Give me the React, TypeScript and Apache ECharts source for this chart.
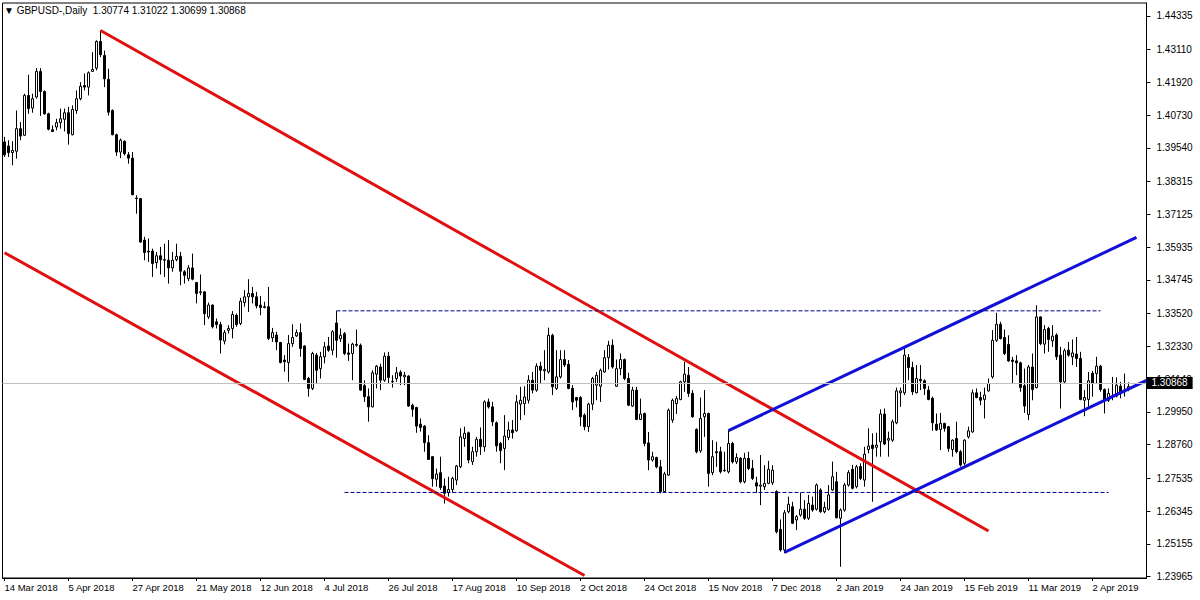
import React, { useEffect, useRef } from "react";
import * as echarts from "echarts";

// ---------- categories (trading days, no weekend bars, no Christmas / New Year bar) ----------
const START_DATE = "2018-03-14";
const HOLIDAYS = ["2018-12-25", "2019-01-01"];
const EXTRA_SLOTS = 4; // empty right-shift space of the terminal
const MONTHS = ["Jan", "Feb", "Mar", "Apr", "May", "Jun", "Jul", "Aug", "Sep", "Oct", "Nov", "Dec"];

// ---------- daily candles [open, high, low, close] ----------
const candlesMarJun2018 = [
  [1.3976, 1.3994, 1.3921, 1.3929], [1.3961, 1.3982, 1.3921, 1.3937], [1.3937, 1.3978, 1.3891, 1.3945],
  [1.3942, 1.409, 1.3915, 1.4024], [1.4024, 1.4048, 1.3982, 1.3997], [1.4, 1.4151, 1.3997, 1.4145],
  [1.4145, 1.422, 1.4078, 1.4097], [1.4099, 1.4151, 1.4082, 1.4133], [1.4139, 1.4244, 1.4133, 1.4232],
  [1.4232, 1.4244, 1.407, 1.4159], [1.4159, 1.4163, 1.4075, 1.4078], [1.4078, 1.4082, 1.4018, 1.4022],
  [1.402, 1.4036, 1.4012, 1.4014], [1.403, 1.406, 1.4018, 1.4046], [1.4046, 1.4097, 1.4024, 1.406],
  [1.4058, 1.4097, 1.4014, 1.4082], [1.4082, 1.4103, 1.3966, 1.4006], [1.4002, 1.4109, 1.4, 1.4094],
  [1.409, 1.4163, 1.4078, 1.4133], [1.4133, 1.4193, 1.4127, 1.4178], [1.4181, 1.4224, 1.4163, 1.4175],
  [1.4175, 1.4232, 1.4145, 1.4227], [1.4232, 1.4302, 1.423, 1.4239], [1.4244, 1.4345, 1.4236, 1.4341],
  [1.4341, 1.4381, 1.4284, 1.4293], [1.429, 1.4308, 1.4175, 1.4205], [1.4203, 1.4242, 1.4072, 1.4084],
  [1.409, 1.4094, 1.4, 1.4002], [1.4002, 1.4006, 1.3925, 1.3939], [1.3939, 1.3988, 1.3917, 1.3982],
  [1.3978, 1.3982, 1.3927, 1.3933], [1.3929, 1.3939, 1.3897, 1.3917], [1.3917, 1.3939, 1.3782, 1.3784],
  [1.3772, 1.3782, 1.3715, 1.377], [1.377, 1.3772, 1.361, 1.3612], [1.3619, 1.3631, 1.3546, 1.3574],
  [1.3579, 1.3625, 1.354, 1.3576], [1.3579, 1.3588, 1.3485, 1.3534], [1.3537, 1.3576, 1.3516, 1.3562],
  [1.3562, 1.3594, 1.3494, 1.3548], [1.3548, 1.3606, 1.3485, 1.3546], [1.3546, 1.3619, 1.3461, 1.3518],
  [1.3518, 1.3576, 1.3504, 1.3546], [1.3548, 1.3606, 1.3542, 1.356], [1.356, 1.3576, 1.3455, 1.3506],
  [1.3504, 1.351, 1.3461, 1.3491], [1.3479, 1.3528, 1.347, 1.3518], [1.3518, 1.357, 1.3473, 1.3477],
  [1.3465, 1.3467, 1.3389, 1.3425], [1.3431, 1.3494, 1.3419, 1.3429], [1.3431, 1.3433, 1.331, 1.3352],
  [1.334, 1.3392, 1.3332, 1.3383], [1.3383, 1.3385, 1.3298, 1.3304], [1.3322, 1.3334, 1.3298, 1.3312],
  [1.3312, 1.3322, 1.3207, 1.3256], [1.3252, 1.3292, 1.324, 1.3283], [1.3291, 1.331, 1.328, 1.3298],
  [1.3298, 1.3361, 1.3262, 1.3349], [1.3346, 1.3352, 1.3304, 1.3312], [1.3316, 1.3409, 1.331, 1.3397],
  [1.3392, 1.3437, 1.3377, 1.3413], [1.3413, 1.3477, 1.3358, 1.3425], [1.3425, 1.3449, 1.3389, 1.3413],
  [1.3413, 1.3431, 1.3371, 1.338], [1.3383, 1.3416, 1.3346, 1.3374], [1.3377, 1.3395, 1.3371, 1.3374],
  [1.3377, 1.3449, 1.3256, 1.3262], [1.3264, 1.33, 1.3249, 1.3283], [1.3274, 1.3286, 1.3219, 1.3249],
  [1.3247, 1.3249, 1.3171, 1.3174], [1.3183, 1.3201, 1.3141, 1.3177], [1.3174, 1.3274, 1.3104, 1.3243],
];
const candlesJunSep2018 = [
  [1.3243, 1.3313, 1.3231, 1.3265], [1.3271, 1.3294, 1.3267, 1.3283], [1.3283, 1.3316, 1.3195, 1.3225],
  [1.3234, 1.3237, 1.311, 1.3113], [1.3116, 1.3122, 1.305, 1.308], [1.308, 1.3213, 1.3074, 1.3207],
  [1.3201, 1.3209, 1.3098, 1.3146], [1.3152, 1.3213, 1.3116, 1.3195], [1.3195, 1.3249, 1.3171, 1.3231],
  [1.3234, 1.3267, 1.3213, 1.3219], [1.3219, 1.3292, 1.3201, 1.3286], [1.3318, 1.3362, 1.3192, 1.3255],
  [1.3261, 1.3298, 1.3249, 1.3273], [1.3279, 1.3285, 1.3201, 1.3207], [1.3209, 1.3243, 1.318, 1.3204],
  [1.3207, 1.3246, 1.311, 1.3241], [1.324, 1.3294, 1.3231, 1.3237], [1.3237, 1.3243, 1.3071, 1.3074],
  [1.309, 1.311, 1.3031, 1.305], [1.305, 1.308, 1.2959, 1.3013], [1.3013, 1.3146, 1.3011, 1.3137],
  [1.3132, 1.3165, 1.308, 1.3161], [1.3158, 1.317, 1.3074, 1.311], [1.311, 1.3211, 1.3104, 1.3197],
  [1.3197, 1.3213, 1.31, 1.312], [1.3106, 1.3128, 1.3083, 1.3104], [1.3116, 1.3158, 1.3104, 1.3137],
  [1.3139, 1.3146, 1.3092, 1.3125], [1.3122, 1.314, 1.3092, 1.3128], [1.3125, 1.3128, 1.3013, 1.3016],
  [1.3019, 1.3025, 1.2977, 1.3004], [1.3011, 1.3013, 1.2919, 1.2943], [1.295, 1.2971, 1.2923, 1.2938],
  [1.2943, 1.2947, 1.285, 1.2883], [1.2883, 1.291, 1.282, 1.2822], [1.2832, 1.2834, 1.2723, 1.2752],
  [1.275, 1.2789, 1.2723, 1.2769], [1.2774, 1.2832, 1.2711, 1.272], [1.2725, 1.2753, 1.2662, 1.2699],
  [1.2701, 1.2759, 1.2687, 1.2713], [1.2713, 1.2759, 1.2701, 1.2753], [1.2747, 1.2802, 1.2729, 1.2798],
  [1.2796, 1.2935, 1.279, 1.2904], [1.2898, 1.2941, 1.2868, 1.2917], [1.2919, 1.2923, 1.2808, 1.282],
  [1.2814, 1.2868, 1.2802, 1.285], [1.285, 1.2904, 1.2832, 1.2895], [1.2895, 1.2938, 1.2838, 1.2868],
  [1.2868, 1.3037, 1.285, 1.3031], [1.3031, 1.3043, 1.3007, 1.3013], [1.3013, 1.3031, 1.2943, 1.2959],
  [1.2955, 1.296, 1.285, 1.2871], [1.288, 1.2886, 1.2808, 1.2854], [1.2862, 1.2983, 1.2783, 1.2907],
  [1.2902, 1.2959, 1.2892, 1.2929], [1.2929, 1.2965, 1.2898, 1.2919], [1.2926, 1.3056, 1.2923, 1.3031],
  [1.3023, 1.3086, 1.2965, 1.3037], [1.3025, 1.3088, 1.2983, 1.3049], [1.3037, 1.3128, 1.3025, 1.311],
  [1.311, 1.314, 1.3062, 1.3074], [1.3074, 1.3171, 1.3068, 1.3161], [1.3161, 1.3177, 1.3098, 1.3146],
  [1.3144, 1.3219, 1.311, 1.3149], [1.314, 1.3301, 1.3134, 1.3273], [1.3273, 1.3279, 1.3056, 1.3086],
  [1.308, 1.3219, 1.3074, 1.3122], [1.3122, 1.3219, 1.3116, 1.3185], [1.3185, 1.3219, 1.3158, 1.3165],
  [1.3168, 1.3183, 1.3077, 1.308], [1.308, 1.3092, 1.3001, 1.3031],
];
const candlesOctJan = [
  [1.3047, 1.3049, 1.3011, 1.3037], [1.3047, 1.3052, 1.2943, 1.2977], [1.2983, 1.2989, 1.2928, 1.2941],
  [1.2941, 1.3028, 1.2922, 1.3023], [1.3023, 1.3122, 1.3001, 1.3116], [1.3092, 1.314, 1.3037, 1.3128],
  [1.3088, 1.3152, 1.3031, 1.3146], [1.314, 1.3219, 1.3137, 1.3192], [1.3192, 1.3253, 1.3149, 1.3237],
  [1.3237, 1.3258, 1.3152, 1.3158], [1.3088, 1.3185, 1.3086, 1.3152], [1.3152, 1.3207, 1.3128, 1.3185],
  [1.3185, 1.3189, 1.311, 1.3116], [1.3116, 1.3137, 1.3016, 1.3019], [1.3016, 1.3086, 1.3013, 1.3074],
  [1.3074, 1.3086, 1.2965, 1.2967], [1.2967, 1.3043, 1.2965, 1.2987], [1.2989, 1.2992, 1.287, 1.288],
  [1.2882, 1.2922, 1.2783, 1.282], [1.282, 1.285, 1.2814, 1.2832], [1.2829, 1.2832, 1.279, 1.2795],
  [1.2795, 1.282, 1.2699, 1.2705], [1.2705, 1.2777, 1.2701, 1.2769], [1.2765, 1.3007, 1.2762, 1.3001],
  [1.2965, 1.3043, 1.2955, 1.3037], [1.3025, 1.3052, 1.2987, 1.3043], [1.304, 1.3108, 1.3037, 1.3104],
  [1.3104, 1.3177, 1.3068, 1.3132], [1.3128, 1.3158, 1.3049, 1.3062], [1.3062, 1.3074, 1.2974, 1.2977],
  [1.2931, 1.2935, 1.2844, 1.285], [1.2853, 1.3047, 1.2846, 1.2971], [1.2977, 1.3074, 1.2904, 1.2989],
  [1.2989, 1.2992, 1.2723, 1.2771], [1.2774, 1.2892, 1.2765, 1.2832], [1.285, 1.2886, 1.2795, 1.2846],
  [1.285, 1.2868, 1.2771, 1.2777], [1.2783, 1.285, 1.2777, 1.2781], [1.2777, 1.2928, 1.2771, 1.288],
  [1.288, 1.2886, 1.2807, 1.2813], [1.2813, 1.2844, 1.2805, 1.2829], [1.2826, 1.283, 1.2735, 1.2741],
  [1.2741, 1.2846, 1.2735, 1.2826], [1.2826, 1.285, 1.2783, 1.2789], [1.2789, 1.282, 1.2747, 1.2753],
  [1.2737, 1.2759, 1.2701, 1.2725], [1.2725, 1.2838, 1.2656, 1.2729], [1.2723, 1.2801, 1.2711, 1.2735],
  [1.2735, 1.2817, 1.2732, 1.2786], [1.2737, 1.2801, 1.2729, 1.2783], [1.2705, 1.271, 1.2553, 1.2559],
  [1.2568, 1.2604, 1.2487, 1.2493], [1.2493, 1.2638, 1.2481, 1.2628], [1.2632, 1.2687, 1.2626, 1.2659],
  [1.265, 1.2668, 1.2587, 1.259], [1.2602, 1.262, 1.2565, 1.2614], [1.262, 1.2701, 1.2614, 1.2641],
  [1.2641, 1.2674, 1.2602, 1.2608], [1.2608, 1.2693, 1.2602, 1.2662], [1.2656, 1.2687, 1.2632, 1.2638],
  [1.2641, 1.2735, 1.2636, 1.2729], [1.2711, 1.2717, 1.2628, 1.2632], [1.2632, 1.2668, 1.2626, 1.2648],
  [1.2641, 1.2729, 1.2636, 1.2693], [1.2711, 1.2814, 1.2708, 1.2759], [1.2741, 1.2777, 1.2608, 1.261],
  [1.2608, 1.2644, 1.2432, 1.2638], [1.2638, 1.2737, 1.2632, 1.2729], [1.2729, 1.2783, 1.2723, 1.2774],
  [1.2786, 1.2802, 1.2713, 1.2717], [1.2723, 1.2802, 1.2717, 1.2795],
];
const candlesJanApr2019 = [
  [1.2796, 1.2808, 1.2747, 1.2753], [1.2747, 1.2868, 1.2723, 1.2841], [1.2858, 1.2935, 1.2844, 1.2871],
  [1.2874, 1.2917, 1.2668, 1.2862], [1.2866, 1.2919, 1.2832, 1.2874], [1.2886, 1.3004, 1.2832, 1.2987],
  [1.2987, 1.3007, 1.2874, 1.2878], [1.2892, 1.2923, 1.2832, 1.2898], [1.2892, 1.2967, 1.2886, 1.2959],
  [1.2955, 1.3083, 1.295, 1.3071], [1.3064, 1.3083, 1.3013, 1.3071], [1.3064, 1.3225, 1.3056, 1.3201],
  [1.3192, 1.3205, 1.311, 1.3156], [1.3156, 1.3177, 1.3056, 1.3068], [1.3064, 1.3165, 1.3062, 1.3116],
  [1.3113, 1.3165, 1.3074, 1.3108], [1.3108, 1.3113, 1.3056, 1.308], [1.3074, 1.3089, 1.3037, 1.304],
  [1.3044, 1.305, 1.2926, 1.2955], [1.295, 1.2989, 1.2926, 1.2929], [1.2931, 1.2991, 1.2856, 1.2953],
  [1.2953, 1.2955, 1.2923, 1.2935], [1.2941, 1.2943, 1.285, 1.2862], [1.2858, 1.2895, 1.2832, 1.2892],
  [1.2898, 1.2959, 1.2844, 1.285], [1.285, 1.2856, 1.2796, 1.2802], [1.2808, 1.2895, 1.2802, 1.2892],
  [1.2904, 1.2941, 1.2898, 1.2926], [1.2922, 1.3076, 1.2919, 1.3064], [1.3064, 1.308, 1.3044, 1.3047],
  [1.3047, 1.3068, 1.3019, 1.3037], [1.304, 1.3083, 1.2971, 1.3056], [1.3071, 1.3116, 1.3068, 1.3098],
  [1.3122, 1.3292, 1.3116, 1.3255], [1.3255, 1.3355, 1.3249, 1.3313], [1.3313, 1.3322, 1.3258, 1.3261],
  [1.3265, 1.3294, 1.3201, 1.3207], [1.324, 1.3273, 1.3177, 1.318], [1.3183, 1.3195, 1.3098, 1.3178],
  [1.318, 1.3201, 1.3128, 1.3173], [1.3173, 1.3177, 1.3068, 1.3083], [1.309, 1.3152, 1.2991, 1.3016],
  [1.2985, 1.3165, 1.2965, 1.3158], [1.3158, 1.3207, 1.3037, 1.3076], [1.3083, 1.3382, 1.308, 1.334],
  [1.334, 1.3342, 1.3237, 1.3243], [1.3241, 1.331, 1.3207, 1.3294], [1.3298, 1.3304, 1.3213, 1.3258],
  [1.3253, 1.331, 1.3231, 1.327], [1.3274, 1.328, 1.3183, 1.3195], [1.3201, 1.3231, 1.3007, 1.3104],
  [1.3104, 1.3225, 1.3098, 1.3217], [1.3219, 1.3249, 1.3195, 1.3201], [1.3195, 1.3258, 1.3165, 1.3209],
  [1.3205, 1.3267, 1.3158, 1.3189], [1.3189, 1.3213, 1.3037, 1.304], [1.3037, 1.3074, 1.2979, 1.3047],
  [1.304, 1.314, 1.3013, 1.3108], [1.3135, 1.3144, 1.305, 1.31], [1.3134, 1.3195, 1.3098, 1.3161],
  [1.3161, 1.3165, 1.3068, 1.3076], [1.3076, 1.308, 1.2989, 1.3037], [1.3037, 1.308, 1.3031, 1.3062],
  [1.3052, 1.3122, 1.3037, 1.305], [1.3052, 1.312, 1.3047, 1.3092], [1.3088, 1.3104, 1.3044, 1.3062],
  [1.3074, 1.3134, 1.305, 1.3068], [1.30774, 1.31022, 1.30699, 1.30868],
];

// ---------- price scale ----------
const Y_MIN = 1.23911;
const Y_MAX = 1.44807;
const yTickValues = [
  1.23965, 1.25155, 1.26345, 1.27535, 1.2876, 1.2995, 1.3114, 1.3233, 1.3352,
  1.34745, 1.35935, 1.37125, 1.38315, 1.3954, 1.4073, 1.4192, 1.4311, 1.44335,
];
const SYMBOL = "GBPUSD-,Daily";

// ---------- drawn objects: [bar index, price] ----------
const redChannelUpper = [[24, 1.4381], [246, 1.2562]];
const redChannelLower = [[0, 1.35733], [145, 1.24]];
const blueChannelUpper = [[181, 1.2927], [283, 1.3629]];
const blueChannelLower = [[195, 1.2484], [288, 1.31262]];
const levelHigh = [[83, 1.3362], [274, 1.3362]];
const levelLow = [[85, 1.2702], [276, 1.2702]];

const FONT = "'Liberation Sans', Arial, sans-serif";

function tradingDays(start: string, count: number, holidays: string[]) {
  const out: string[] = [];
  const d = new Date(start + "T00:00:00Z");
  while (out.length < count) {
    const dow = d.getUTCDay();
    const iso = d.toISOString().slice(0, 10);
    if (dow !== 0 && dow !== 6 && holidays.indexOf(iso) < 0) {
      out.push(`${d.getUTCDate()} ${MONTHS[d.getUTCMonth()]} ${d.getUTCFullYear()}`);
    }
    d.setUTCDate(d.getUTCDate() + 1);
  }
  return out;
}

export default function App() {
  const ref = useRef<HTMLDivElement>(null);

  useEffect(() => {
    document.body.style.margin = "0";
    if (!ref.current) return;
    const chart = echarts.init(ref.current, undefined, { renderer: "svg" });

    const ohlc = [...candlesMarJun2018, ...candlesJunSep2018, ...candlesOctJan, ...candlesJanApr2019];
    const categories = tradingDays(START_DATE, ohlc.length + EXTRA_SLOTS, HOLIDAYS);
    const last = ohlc[ohlc.length - 1];
    const bid = last[3];
    const header = `▼ ${SYMBOL}  ${last.map((v) => v.toFixed(5)).join(" ")}`;

    const trend = (data: number[][], color: string, width: number, type: any = "solid") => ({
      type: "line",
      data,
      symbol: "none",
      clip: false,
      silent: true,
      z: 4,
      lineStyle: { color, width, type },
    });

    chart.setOption({
      animation: false,
      backgroundColor: "#fff",
      textStyle: { fontFamily: FONT },
      title: {
        text: header,
        left: 4,
        top: 5,
        padding: 0,
        textStyle: { fontSize: 10, fontWeight: "normal", color: "#000", fontFamily: FONT },
      },
      grid: {
        left: 2.5,
        top: 3,
        width: 1144,
        height: 575,
        show: true,
        borderColor: "#000",
        borderWidth: 1,
        backgroundColor: "#fff",
      },
      xAxis: {
        type: "category",
        data: categories,
        boundaryGap: true,
        axisLine: { show: true, lineStyle: { color: "#000" } },
        axisTick: { show: true, interval: 15, alignWithLabel: true, length: 3, lineStyle: { color: "#000" } },
        axisLabel: { interval: 15, align: "left", color: "#000", fontSize: 9.5, margin: 4, fontFamily: FONT },
        splitLine: { show: false },
      },
      yAxis: {
        type: "value",
        position: "right",
        min: Y_MIN,
        max: Y_MAX,
        axisLine: { show: true, lineStyle: { color: "#000" } },
        axisTick: { show: true, length: 4, customValues: yTickValues, lineStyle: { color: "#000" } },
        axisLabel: {
          customValues: yTickValues,
          formatter: (v: number) => v.toFixed(5),
          color: "#000",
          fontSize: 10,
          margin: 10,
          fontFamily: FONT,
        },
        splitLine: { show: false },
      },
      series: [
        {
          type: "candlestick",
          data: ohlc.map(([o, h, l, c]) => [o, c, l, h]),
          barWidth: 2,
          z: 3,
          itemStyle: { color: "#fff", color0: "#000", borderColor: "#000", borderColor0: "#000", borderWidth: 1 },
          markLine: {
            silent: true,
            symbol: ["none", "none"],
            animation: false,
            lineStyle: { color: "#c0c0c0", type: "solid", width: 1 },
            label: {
              position: "end",
              formatter: bid.toFixed(5),
              backgroundColor: "#000",
              color: "#fff",
              padding: [1, 5, 0, 5],
              fontSize: 10,
              lineHeight: 11,
              distance: 0,
              fontFamily: FONT,
            },
            data: [{ yAxis: bid }],
          },
        },
        trend(redChannelUpper, "#e01010", 3),
        trend(redChannelLower, "#e01010", 3),
        trend(blueChannelUpper, "#1010d8", 3),
        trend(blueChannelLower, "#1010d8", 3),
        trend(levelHigh, "#000080", 1, [4, 2]),
        trend(levelLow, "#000080", 1, [4, 2]),
      ],
    });

    return () => chart.dispose();
  }, []);

  return <div ref={ref} style={{ width: 1200, height: 600 }} />;
}
